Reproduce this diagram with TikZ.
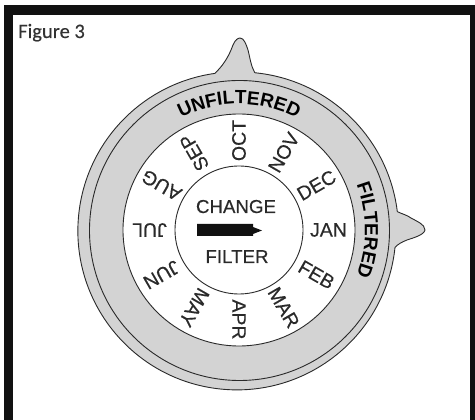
\documentclass[tikz,border=0pt]{standalone}
\usepackage{fontspec}
\setmainfont[FakeBold=0.35]{Liberation Sans}
\newfontfamily\ringfont{Liberation Sans Bold}
\newfontfamily\figfont[FakeBold=0.3]{Carlito}
\usetikzlibrary{decorations.text}
\definecolor{ringgray}{HTML}{D3D3D3}
\definecolor{inkline}{HTML}{2A2A2A}
\definecolor{barblack}{HTML}{111111}
\tikzset{
  dialline/.style={draw=inkline,line width=0.9pt},
  monthlabel/.style={inner sep=0pt,text=inkline,font=\fontsize{19.5}{21}\selectfont},
  centerlabel/.style={inner sep=0pt,anchor=base,text=inkline,font=\fontsize{18.7}{20}\selectfont},
  bar/.style={fill=barblack,draw=none}
}
\begin{document}
\begin{tikzpicture}[x=1pt,y=1pt]
\useasboundingbox (0,0) rectangle (475,420);
\fill[white] (0,0) rectangle (475,420);
% frame, open at the bottom
\fill[bar] (4,0) rectangle (12.5,415);
\fill[bar] (4,405) rectangle (475,415);
\fill[bar] (470,0) rectangle (475,415);
\node[anchor=base west,inner sep=0pt,text=black!80,font=\figfont\fontsize{20.5}{22}\selectfont] (title) at (18,382) {Figure 3};
% dial body with the two pointers
\draw[dialline,fill=ringgray]
  (239.5,189) ++(84.4:159) arc[start angle=84.4,end angle=7,radius=159]
  .. controls (402,206) and (407,205) .. (411,202)
  .. controls (416,199) and (425,196) .. (425,190)
  .. controls (424,185) and (413,182) .. (407,180)
  .. controls (402,178) and (398,176) .. (395,172.5)
  arc[start angle=-6,end angle=-262,radius=159]
  .. controls (227,358) and (231,370) .. (233,375)
  .. controls (235,380) and (238,382) .. (240,382)
  .. controls (244,382) and (246,376) .. (248,370)
  .. controls (250,362) and (251,354) .. (254.8,347.2);
\draw[dialline] (239.5,189.5) circle[radius=150];
\draw[dialline,fill=white] (239,190) circle[radius=116];
\draw[dialline,fill=white] (239,190) circle[radius=64];
% months
\begin{scope}[shift={(239,190)}]
\foreach \ang/\mon in {90/OCT,60/NOV,30/DEC,0/JAN,-30/FEB,-60/MAR,-90/APR,-120/MAY,-150/JUN,180/JUL,150/AUG,120/SEP}
  \node[monthlabel,rotate=\ang] (m\mon) at (\ang:89.5) {\mon};
% ring texts
\path[decorate,decoration={text along path,text align=center,
  text={|\ringfont\fontsize{19}{21}\selectfont|UNFILTERED}}]
  (132:126) arc[start angle=132,end angle=48,radius=126];
\path[decorate,decoration={text along path,text align=center,
  text={|\ringfont\fontsize{19}{21}\selectfont|FILTERED}}]
  (36:126) arc[start angle=36,end angle=-36,radius=126];
\end{scope}
% centre
\node[centerlabel] (change) at (236,207) {CHANGE};
\node[centerlabel] (filter) at (237,157) {FILTER};
\fill[barblack] (197,196) -- (253,196) -- (253,193) -- (262,189.5) -- (253,186) -- (253,184) -- (197,184) -- cycle;
\end{tikzpicture}
\end{document}
